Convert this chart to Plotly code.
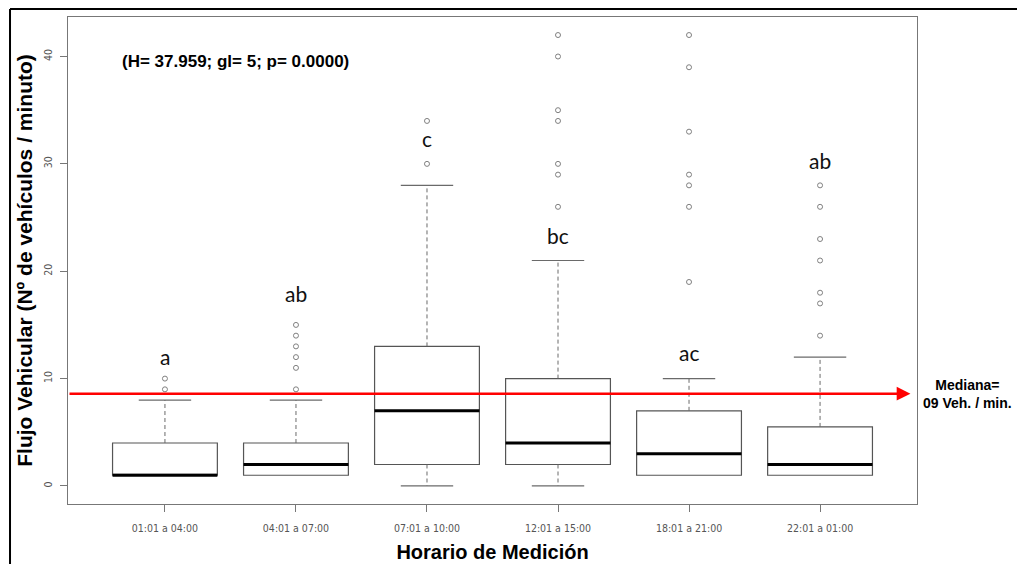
import plotly.graph_objects as go

# ---------------- data ----------------
categorias = ["01:01 a 04:00", "04:01 a 07:00", "07:01 a 10:00",
              "12:01 a 15:00", "18:01 a 21:00", "22:01 a 01:00"]
q1 = [1, 1, 2, 2, 1, 1]
mediana = [1, 2, 7, 4, 3, 2]
q3 = [4, 4, 13, 10, 7, 5.5]
bigote_inf = [1, 1, 0, 0, 1, 1]
bigote_sup = [8, 8, 28, 21, 10, 12]
atipicos = [
    [9, 10],
    [9, 11, 12, 13, 14, 15],
    [30, 34],
    [26, 29, 30, 34, 35, 40, 42],
    [19, 26, 28, 29, 33, 39, 42],
    [14, 17, 18, 21, 23, 26, 28],
]
letras = ["a", "ab", "c", "bc", "ac", "ab"]
letras_y = [12.1, 17.9, 32.4, 23.3, 12.4, 30.3]
mediana_global = 8.6
y_ticks = [0, 10, 20, 30, 40]
estadistico = "(H= 37.959; gl= 5; p= 0.0000)"

# ---------------- figure ----------------
pos = list(range(1, len(categorias) + 1))
box_col = "#555555"
wh_col = "#6a6a6a"
fig = go.Figure()

for i, p in enumerate(pos):
    fig.add_trace(go.Box(
        x=[p], q1=[q1[i]], median=[mediana[i]], q3=[q3[i]],
        lowerfence=[q1[i]], upperfence=[q3[i]],
        width=0.8, whiskerwidth=0,
        fillcolor="rgba(0,0,0,0)", line=dict(color=box_col, width=1.2),
        boxpoints=False, showlegend=False, hoverinfo="skip"))
    # dashed whiskers
    fig.add_trace(go.Scatter(
        x=[p, p, None, p, p], y=[q3[i], bigote_sup[i], None, q1[i], bigote_inf[i]],
        mode="lines", line=dict(color=wh_col, width=1, dash="4px,3px"),
        showlegend=False, hoverinfo="skip"))
    # staples
    xs, ys = [], []
    if bigote_sup[i] > q3[i]:
        xs += [p - 0.2, p + 0.2, None]; ys += [bigote_sup[i], bigote_sup[i], None]
    if bigote_inf[i] < q1[i]:
        xs += [p - 0.2, p + 0.2, None]; ys += [bigote_inf[i], bigote_inf[i], None]
    fig.add_trace(go.Scatter(x=xs, y=ys, mode="lines",
                             line=dict(color=wh_col, width=1.2),
                             showlegend=False, hoverinfo="skip"))
    # thick median
    fig.add_trace(go.Scatter(
        x=[p - 0.4, p + 0.4], y=[mediana[i], mediana[i]], mode="lines",
        line=dict(color="black", width=3), showlegend=False, hoverinfo="skip"))
    # outliers
    fig.add_trace(go.Scatter(
        x=[p] * len(atipicos[i]), y=atipicos[i], mode="markers",
        marker=dict(symbol="circle-open", size=5, color="#808080",
                    line=dict(width=1, color="#808080")),
        showlegend=False, hoverinfo="skip"))
    # significance letters
    fig.add_annotation(x=p, y=letras_y[i], text=letras[i], showarrow=False,
                       font=dict(family="Lato, Open Sans, sans-serif", size=21,
                                 color="#111111"))

x_min, x_max = 0.26, 6.74
# red median arrow
fig.add_annotation(x=6.69, y=mediana_global, ax=x_min, ay=mediana_global,
                   xref="x", yref="y", axref="x", ayref="y", text="",
                   showarrow=True, arrowhead=2, arrowsize=1.1, arrowwidth=2.5,
                   arrowcolor="#ff0000")
fig.add_annotation(x=1.059, y=mediana_global, xref="paper", yref="y",
                   text="<b>Mediana=<br>09 Veh. / min.</b>", showarrow=False,
                   xanchor="center", align="center",
                   font=dict(family="Liberation Sans, Arial", size=14, color="black"))
# statistics text
fig.add_annotation(x=0.657, y=39.5, xref="x", yref="y", text="<b>" + estadistico + "</b>",
                   showarrow=False, xanchor="left",
                   font=dict(family="Liberation Sans, Arial", size=17, color="black"))

# outer black frame (image border)
fig.add_shape(type="line", xref="paper", yref="paper", x0=-0.0683, x1=1.2, y0=1.0164, y1=1.0164,
              line=dict(color="black", width=2))
fig.add_shape(type="line", xref="paper", yref="paper", x0=-0.0683, x1=-0.0683, y0=-0.2, y1=1.0164,
              line=dict(color="black", width=2))

tick_font = dict(family="Liberation Sans Narrow, DejaVu Sans Condensed, Liberation Sans, Arial",
                 size=10.5, color="#555555")
fig.update_layout(
    width=1017, height=564,
    margin=dict(l=68, r=100, t=17, b=60),
    paper_bgcolor="white", plot_bgcolor="white",
    showlegend=False,
    xaxis=dict(range=[x_min, x_max], tickvals=pos, ticktext=categorias, automargin=False,
               showgrid=False, zeroline=False, showline=True, mirror=True,
               linecolor="#777777", linewidth=1.2, ticks="outside", ticklen=7,
               tickcolor="#777777", tickfont=tick_font, ticklabelstandoff=7,
               title=dict(text="<b>Horario de Medición</b>", standoff=12,
                          font=dict(family="Liberation Sans, Arial", size=20, color="black"))),
    yaxis=dict(range=[-1.68, 43.68], tickvals=y_ticks, tickangle=-90, automargin=False,
               showgrid=False, zeroline=False, showline=True, mirror=True,
               linecolor="#777777", linewidth=1.2, ticks="outside", ticklen=7,
               tickcolor="#777777", tickfont=tick_font, ticklabelstandoff=4,
               title=dict(text="<b>Flujo Vehicular (Nº de vehículos / minuto)</b>", standoff=3,
                          font=dict(family="Liberation Sans, Arial", size=21, color="black"))),
)

fig.write_html("out.html", config={"displayModeBar": False},
               post_script="document.body.style.margin='0';"
                           "document.body.style.overflow='hidden';"
                           "document.documentElement.style.overflow='hidden';")
